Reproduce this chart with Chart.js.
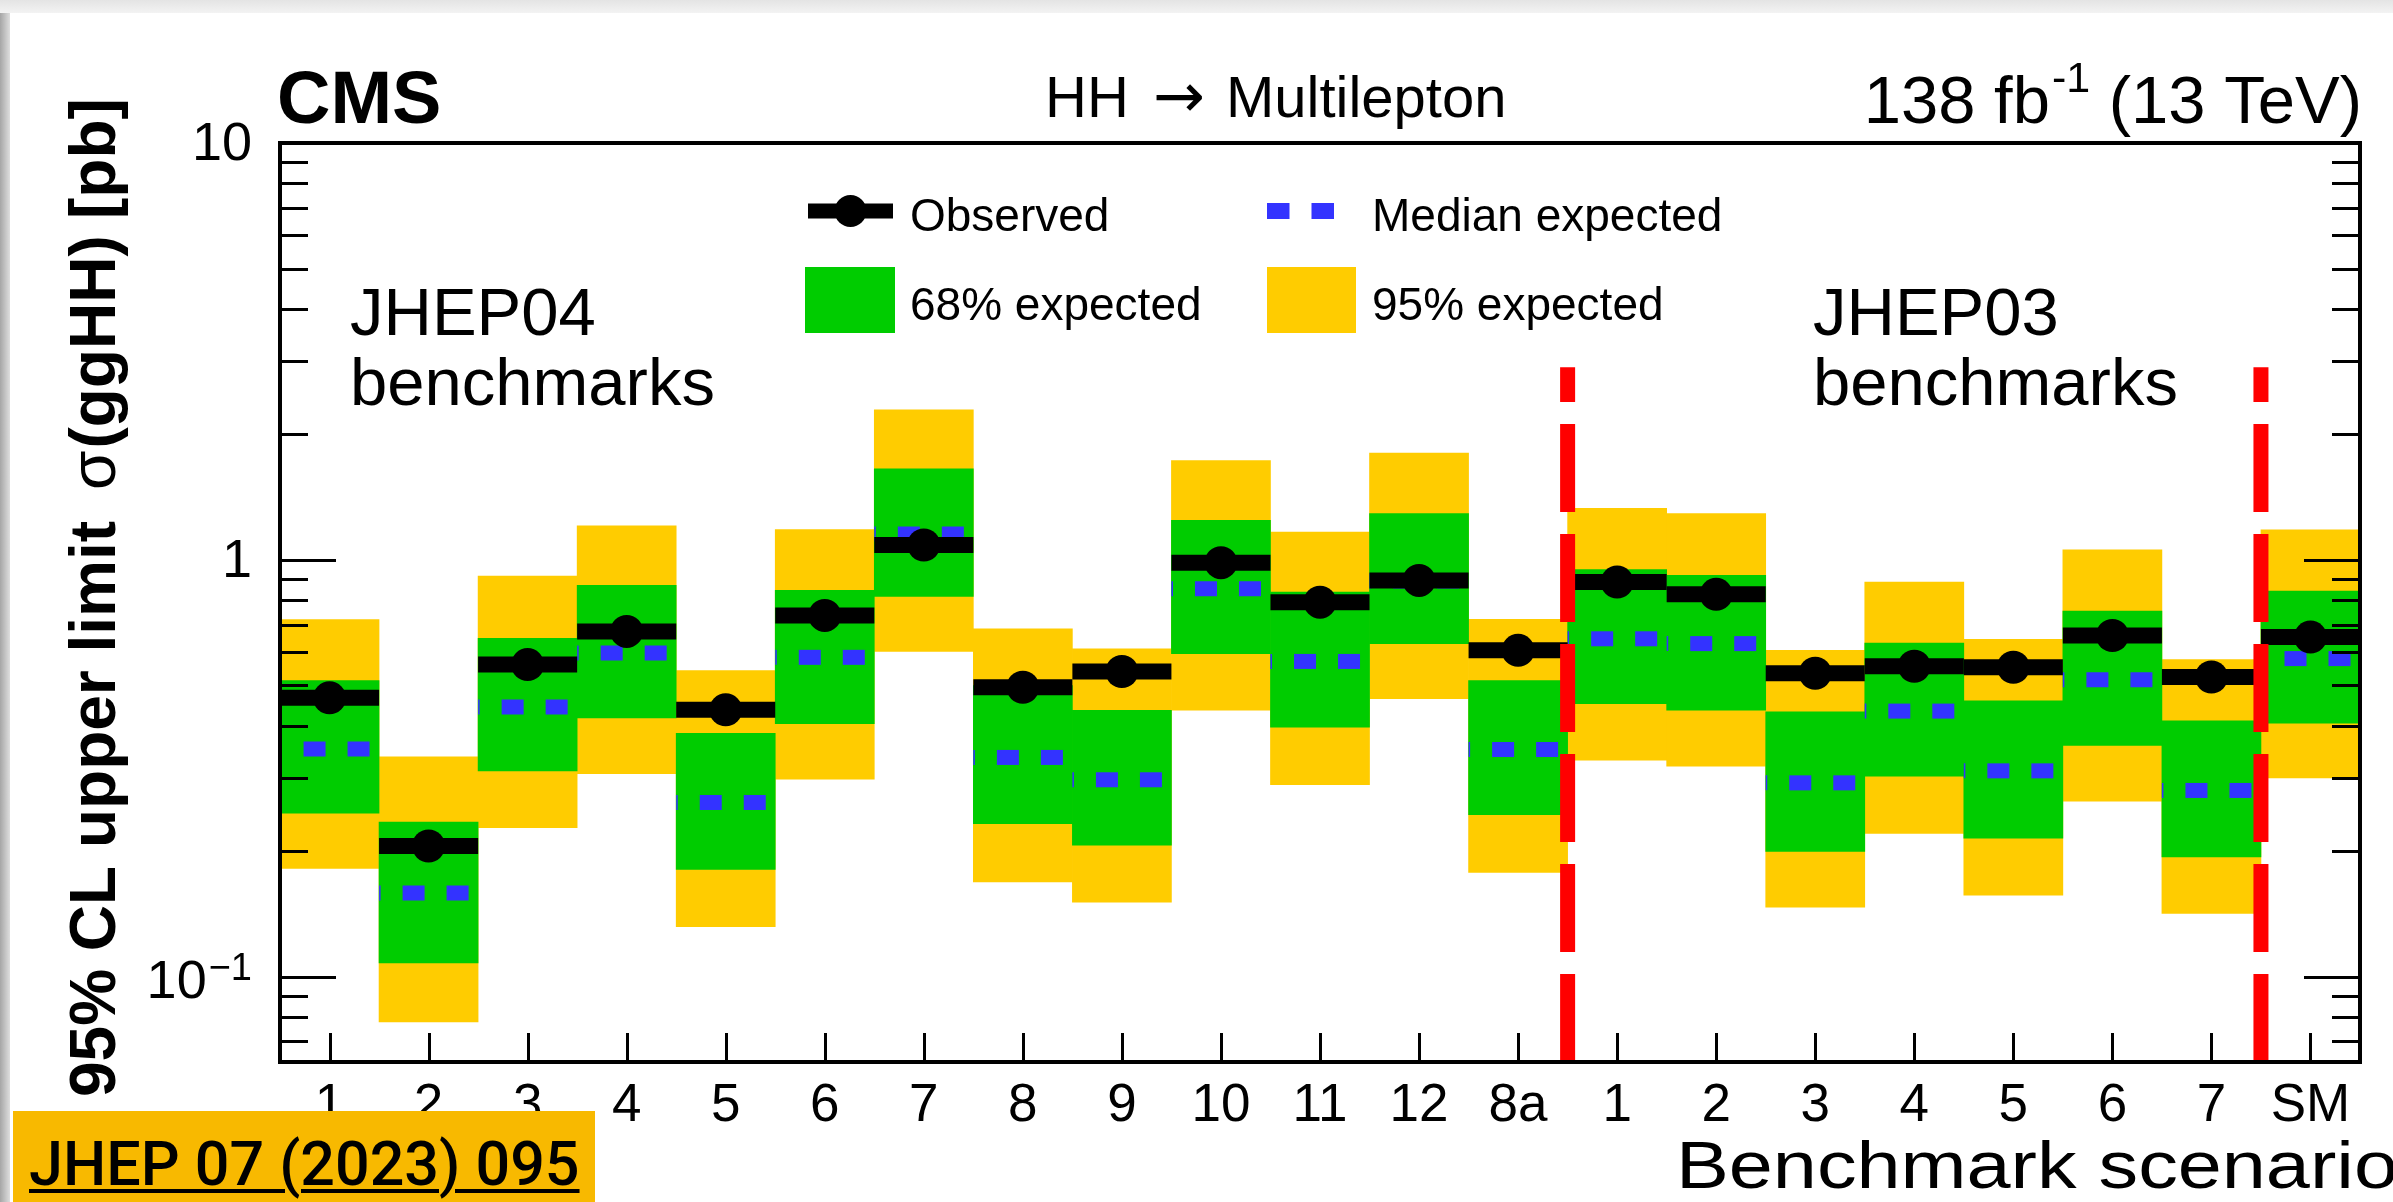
<!DOCTYPE html>
<html>
<head>
<meta charset="utf-8">
<title>HH → Multilepton benchmark limits</title>
<script src="https://cdn.jsdelivr.net/npm/chart.js@4.4.1/dist/chart.umd.min.js"></script>
<style>
  html, body { margin: 0; padding: 0; background: #ffffff; }
  #page { position: relative; width: 2393px; height: 1202px; overflow: hidden; background: #ffffff; }
  #plot { position: absolute; left: 0; top: 0; }
  #edgeTop { position: absolute; left: 0; top: 0; width: 2393px; height: 13px;
             background: linear-gradient(to bottom, #e4e4e4, #f3f3f3); }
  #edgeLeft { position: absolute; left: 0; top: 13px; width: 10px; height: 1189px;
              background: linear-gradient(to right, #a6a6a6, #dedede); }
  #ref { position: absolute; left: 13px; top: 1111px; width: 582px; height: 91px; background: #f8b900; }
  #ref span { position: absolute; left: 16px; top: 23px; font-family: Roboto, "Liberation Sans", sans-serif;
              font-weight: 500; font-size: 61px; line-height: 1; color: #000;
              text-decoration: underline; text-decoration-thickness: 4px; text-underline-offset: 4px; }
</style>
</head>
<body>
<div id="page">
  <canvas id="plot" width="2393" height="1202"></canvas>
  <div id="edgeTop"></div>
  <div id="edgeLeft"></div>
  <div id="ref"><span>JHEP 07 (2023) 095</span></div>
</div>
<script>
// Benchmark scenarios: JHEP04 (1-12, 8a), JHEP03 (1-7), SM
const categories = ['1','2','3','4','5','6','7','8','9','10','11','12','8a',
                    '1','2','3','4','5','6','7','SM'];

// 95% CL upper limits on sigma(ggHH) [pb]
const observed  = [0.467, 0.206, 0.561, 0.674, 0.437, 0.736, 1.086, 0.495, 0.540, 0.985, 0.792, 0.893, 0.607,
                   0.885, 0.827, 0.535, 0.556, 0.553, 0.659, 0.524, 0.653];
const expMedian = [0.352, 0.159, 0.444, 0.598, 0.262, 0.584, 1.154, 0.336, 0.297, 0.853, 0.571, 0.890, 0.351,
                   0.647, 0.630, 0.292, 0.434, 0.312, 0.516, 0.280, 0.580];
const exp68Low  = [0.247, 0.108, 0.312, 0.418, 0.181, 0.405, 0.818, 0.233, 0.207, 0.596, 0.397, 0.630, 0.245,
                   0.452, 0.436, 0.200, 0.303, 0.215, 0.359, 0.194, 0.406];
const exp68High = [0.514, 0.235, 0.649, 0.869, 0.384, 0.845, 1.654, 0.500, 0.436, 1.244, 0.837, 1.291, 0.514,
                   0.948, 0.918, 0.432, 0.632, 0.459, 0.754, 0.411, 0.842];
const exp95Low  = [0.182, 0.078, 0.228, 0.307, 0.132, 0.298, 0.603, 0.169, 0.151, 0.436, 0.289, 0.465, 0.178,
                   0.331, 0.320, 0.147, 0.221, 0.157, 0.264, 0.142, 0.300];
const exp95High = [0.719, 0.337, 0.915, 1.208, 0.543, 1.183, 2.292, 0.684, 0.612, 1.732, 1.166, 1.804, 0.720,
                   1.329, 1.291, 0.607, 0.885, 0.645, 1.058, 0.577, 1.181];

// y axis range and labelled ticks (base, exponent)
const yMin = 0.0625, yMax = 10;
const yTickValues = [0.1, 1, 10];
const yTickBases  = ['10', '1', '10'];
const yTickExps   = ['\u22121', '', ''];

// group separators, in category units, and their upper end
const dividerPositions = [12.5, 19.5];
const dividerTop = 2.9;

const FONT = '"Liberation Sans", Arial, Helvetica, sans-serif';
const COLORS = { obs: '#000000', median: '#3333ff', band68: '#00cc00', band95: '#ffcc00', divider: '#ff0000' };

const halfSlot = (c) => c.chart.chartArea ? c.chart.chartArea.width / categories.length / 2 : 49.5;

const datasets = [
  { type: 'bar', label: '95% expected', data: exp95Low.map((v, i) => [v, exp95High[i]]),
    backgroundColor: COLORS.band95, borderWidth: 0, categoryPercentage: 1, barPercentage: 1, grouped: false, order: 6 },
  { type: 'bar', label: '68% expected', data: exp68Low.map((v, i) => [v, exp68High[i]]),
    backgroundColor: COLORS.band68, borderWidth: 0, categoryPercentage: 1, barPercentage: 1, grouped: false, order: 5 },
  { type: 'line', label: 'Median expected', data: expMedian, showLine: false,
    pointStyle: 'line', pointRotation: 180, pointRadius: halfSlot, pointBorderWidth: 15,
    pointBorderColor: COLORS.median, pointBackgroundColor: COLORS.median,
    pointDash: [22, 22], pointDashOffset: 34.5, order: 4 },
  { type: 'line', label: 'Observed', data: observed, showLine: false,
    pointStyle: 'line', pointRotation: 180, pointRadius: halfSlot, pointBorderWidth: 16,
    pointBorderColor: COLORS.obs, pointBackgroundColor: COLORS.obs, order: 3 },
  { type: 'line', label: 'Observed marker', data: observed, showLine: false,
    pointStyle: 'circle', pointRadius: 16.5, pointBorderWidth: 0,
    pointBackgroundColor: COLORS.obs, order: 2 }
];
dividerPositions.forEach((p) => datasets.push({
  type: 'line', label: 'separator', xAxisID: 'xd',
  data: [{ x: p, y: yMin }, { x: p, y: dividerTop }],
  borderColor: COLORS.divider, borderWidth: 15, borderDash: [88, 22], borderCapStyle: 'butt',
  pointRadius: 0, order: 1
}));

// dashed point strokes for the median expected markers
const pointDashPlugin = {
  id: 'pointDash',
  beforeDatasetDraw(chart, args) {
    const ds = chart.data.datasets[args.index];
    if (ds.pointDash) {
      chart.ctx.save();
      chart.ctx.setLineDash(ds.pointDash);
      chart.ctx.lineDashOffset = ds.pointDashOffset || 0;
    }
  },
  afterDatasetDraw(chart, args) {
    if (chart.data.datasets[args.index].pointDash) chart.ctx.restore();
  }
};

// frame and inward tick marks, drawn over the bands
const framePlugin = {
  id: 'frame',
  afterDatasetsDraw(chart) {
    const { ctx, chartArea: a, scales } = chart;
    ctx.save();
    ctx.strokeStyle = '#000';
    ctx.lineWidth = 3;
    ctx.beginPath();
    for (let e = -2; e <= 1; e++) {
      for (let m = 1; m <= 9; m++) {
        const v = m * Math.pow(10, e);
        if (v < yMin * 1.0001 || v > yMax * 1.0001) continue;
        const py = Math.round(scales.y.getPixelForValue(v)) + 0.5;
        const len = m === 1 ? 56 : 28;
        ctx.moveTo(a.left, py); ctx.lineTo(a.left + len, py);
        ctx.moveTo(a.right, py); ctx.lineTo(a.right - len, py);
      }
    }
    categories.forEach((c, i) => {
      const px = Math.round(scales.x.getPixelForValue(i)) + 0.5;
      ctx.moveTo(px, a.bottom); ctx.lineTo(px, a.bottom - 29);
    });
    ctx.stroke();
    ctx.lineWidth = 4;
    ctx.strokeRect(a.left, a.top, a.right - a.left, a.bottom - a.top);
    ctx.restore();
  }
};

// labels, legend and annotation texts
const textPlugin = {
  id: 'texts',
  afterDraw(chart) {
    const { ctx, chartArea: a, scales } = chart;
    ctx.save();
    ctx.fillStyle = '#000';
    ctx.textBaseline = 'alphabetic';

    // y tick labels
    yTickValues.forEach((v, i) => {
      const py = scales.y.getPixelForValue(v);
      const xr = a.left - 28;
      ctx.textBaseline = 'middle';
      if (yTickExps[i]) {
        ctx.font = '38px ' + FONT;
        ctx.textAlign = 'right';
        ctx.textBaseline = 'alphabetic';
        ctx.fillText(yTickExps[i], xr, py + 3);
        const ew = ctx.measureText(yTickExps[i]).width;
        ctx.font = '54px ' + FONT;
        ctx.textBaseline = 'middle';
        ctx.fillText(yTickBases[i], xr - ew - 2, py + 6);
      } else {
        ctx.font = '54px ' + FONT;
        ctx.textAlign = 'right';
        ctx.fillText(yTickBases[i], xr, py + 2);
      }
    });
    ctx.textBaseline = 'alphabetic';
    ctx.textAlign = 'left';

    // header
    ctx.font = 'bold 74px ' + FONT;
    ctx.fillText('CMS', 277, 123);
    ctx.font = '58px ' + FONT;
    ctx.fillText('HH', 1045, 117);
    ctx.font = '62px "DejaVu Sans", ' + FONT;
    ctx.fillText('\u2192', 1153, 117);
    ctx.font = '58px ' + FONT;
    ctx.fillText('Multilepton', 1226, 117);
    ctx.font = '67px ' + FONT;
    const tail = ' (13 TeV)';
    const xTail = a.right + 2 - ctx.measureText(tail).width;
    ctx.fillText(tail, xTail, 123);
    ctx.font = '43px ' + FONT;
    const sup = '-1';
    const xSup = xTail - ctx.measureText(sup).width;
    ctx.fillText(sup, xSup, 92);
    ctx.font = '67px ' + FONT;
    ctx.textAlign = 'right';
    ctx.fillText('138 fb', xSup - 2, 123);
    ctx.textAlign = 'left';

    // group captions
    ctx.font = '67px ' + FONT;
    ctx.fillText('JHEP04', 350, 335);
    ctx.fillText('benchmarks', 350, 405);
    ctx.fillText('JHEP03', 1813, 335);
    ctx.fillText('benchmarks', 1813, 405);

    // legend
    ctx.save();
    ctx.strokeStyle = COLORS.obs; ctx.lineWidth = 15;
    ctx.beginPath(); ctx.moveTo(808, 211); ctx.lineTo(893, 211); ctx.stroke();
    ctx.fillStyle = COLORS.obs;
    ctx.beginPath(); ctx.arc(850.5, 211, 16, 0, Math.PI * 2); ctx.fill();
    ctx.strokeStyle = COLORS.median; ctx.lineWidth = 16; ctx.setLineDash([22.5, 22]);
    ctx.beginPath(); ctx.moveTo(1267, 211); ctx.lineTo(1334, 211); ctx.stroke();
    ctx.setLineDash([]);
    ctx.fillStyle = COLORS.band68; ctx.fillRect(805, 267, 90, 66);
    ctx.fillStyle = COLORS.band95; ctx.fillRect(1267, 267, 89, 66);
    ctx.restore();
    ctx.font = '46px ' + FONT;
    ctx.fillText('Observed', 910, 231);
    ctx.fillText('Median expected', 1372, 231);
    ctx.fillText('68% expected', 910, 320);
    ctx.fillText('95% expected', 1372, 320);

    // x axis title
    ctx.save();
    ctx.translate(1676, 1188);
    ctx.scale(1.2, 1);
    ctx.font = '66px ' + FONT;
    ctx.fillText('Benchmark scenario', 0, 0);
    ctx.restore();

    // y axis title
    ctx.save();
    ctx.translate(115, 0);
    ctx.rotate(-Math.PI / 2);
    ctx.font = 'bold 64px ' + FONT;
    ctx.fillText('95% CL upper limit', -1097, 0);
    ctx.font = '64px ' + FONT;
    ctx.fillText('\u03c3', -490, 0);
    const sw = ctx.measureText('\u03c3').width;
    ctx.font = 'bold 64px ' + FONT;
    ctx.fillText('(ggHH)', -490 + sw + 2, 0);
    ctx.fillText('[pb]', -219, 0);
    ctx.restore();

    ctx.restore();
  }
};

new Chart(document.getElementById('plot'), {
  data: { labels: categories, datasets },
  options: {
    responsive: false,
    devicePixelRatio: 1,
    animation: false,
    events: [],
    layout: { autoPadding: false, padding: { left: 0, right: 33, top: 143, bottom: 0 } },
    plugins: { legend: { display: false }, tooltip: { enabled: false } },
    scales: {
      x: {
        type: 'category', offset: true,
        grid: { display: false }, border: { display: false },
        ticks: { color: '#000', font: { family: FONT, size: 53 }, padding: 5, maxRotation: 0, autoSkip: false },
        afterFit: (s) => { s.height = 140; }
      },
      xd: { type: 'linear', display: false, min: -0.5, max: categories.length - 0.5 },
      y: {
        type: 'logarithmic', min: yMin, max: yMax,
        grid: { display: false }, border: { display: false },
        ticks: { display: false },
        afterFit: (s) => { s.width = 280; }
      }
    }
  },
  plugins: [pointDashPlugin, framePlugin, textPlugin]
});
</script>
</body>
</html>
